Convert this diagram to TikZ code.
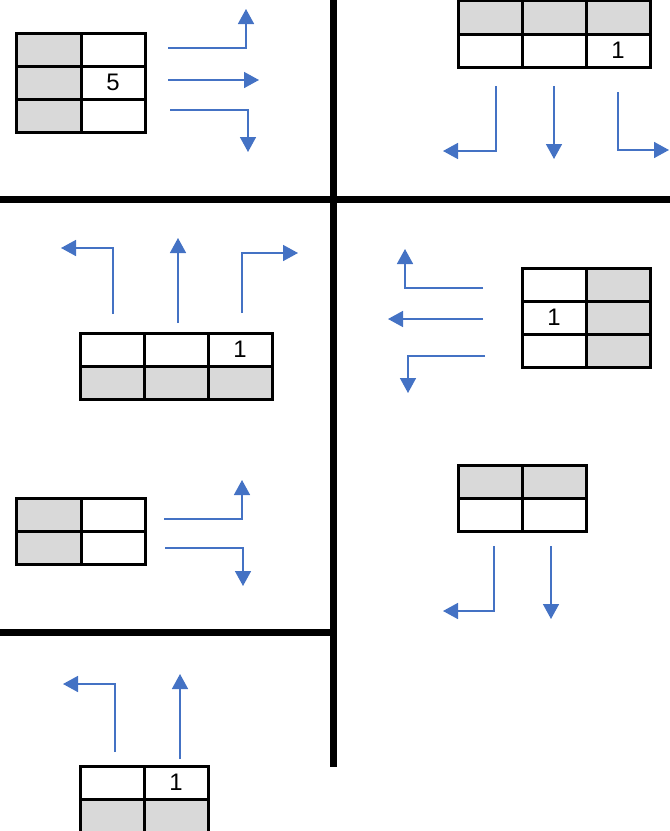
\documentclass[tikz,border=0pt]{standalone}
\usepackage{fontspec}
\setmainfont{Liberation Sans}
\usetikzlibrary{arrows.meta}

\definecolor{cellgray}{HTML}{D9D9D9}
\definecolor{arrowblue}{HTML}{4472C4}

\tikzset{
	cell/.style={draw,line width=3bp,fill=white,minimum width=64bp,minimum height=33bp,
		inner sep=0pt,outer sep=0pt,font=\fontsize{24}{24}\selectfont},
	move/.style={draw=arrowblue,line width=1.6bp,-{Triangle[length=15bp,width=16bp]}},
	wall/.style={line width=7bp}
}

\begin{document}
\begin{tikzpicture}[x=1bp,y=-1bp]
	\useasboundingbox (0,0) rectangle (670,831);

	% walls between the cases
	\draw[wall] (0,199.5) -- (670,199.5);
	\draw[wall] (333,0) -- (333,767);
	\draw[wall] (0,632) -- (333,632);

	% 3x2, grey column on the left
	\foreach \t [count=\n] in {{},5,{}} {
		\node[cell,fill=cellgray] (Al\n) at (49,16.5+33*\n) {};
		\node[cell] (Ar\n) at (113,16.5+33*\n) {\t};
	}
	\draw[move] (168,48) -- (246,48) -- (246,9);
	\draw[move] (168,80) -- (259,80);
	\draw[move] (170,110) -- (248,110) -- (248,152);

	% 2x3, grey row on top
	\foreach \t [count=\n] in {{},{},1} {
		\node[cell,fill=cellgray] (Bt\n) at (426+64*\n,17.5) {};
		\node[cell] (Bb\n) at (426+64*\n,50.5) {\t};
	}
	\draw[move] (496,86) -- (496,151) -- (443,151);
	\draw[move] (554,86) -- (554,159);
	\draw[move] (618,92) -- (618,150) -- (669,150);

	% 2x3, grey row below
	\foreach \t [count=\n] in {{},{},1} {
		\node[cell] (Ct\n) at (48+64*\n,349.5) {\t};
		\node[cell,fill=cellgray] (Cb\n) at (48+64*\n,382.5) {};
	}
	\draw[move] (113,314) -- (113,248) -- (61,248);
	\draw[move] (178,323) -- (178,238);
	\draw[move] (242,313) -- (242,253) -- (298,253);

	% 3x2, grey column on the right
	\foreach \t [count=\n] in {{},1,{}} {
		\node[cell] (Dl\n) at (554,251.5+33*\n) {\t};
		\node[cell,fill=cellgray] (Dr\n) at (618,251.5+33*\n) {};
	}
	\draw[move] (483,288) -- (405,288) -- (405,249);
	\draw[move] (483,319) -- (388,319);
	\draw[move] (485,356) -- (408,356) -- (408,393);

	% 2x2 cases
	\foreach \n in {1,2} {
		\node[cell,fill=cellgray] (El\n) at (49,481.5+33*\n) {};
		\node[cell] (Er\n) at (113,481.5+33*\n) {};
	}
	\draw[move] (164,519) -- (242,519) -- (242,480);
	\draw[move] (165,548) -- (243,548) -- (243,586);

	\foreach \n in {1,2} {
		\node[cell,fill=cellgray] (Ft\n) at (426+64*\n,481.5) {};
		\node[cell] (Fb\n) at (426+64*\n,514.5) {};
	}
	\draw[move] (494,546) -- (494,611) -- (443,611);
	\draw[move] (551,546) -- (551,619);

	\foreach \t [count=\n] in {{},1} {
		\node[cell] (Gt\n) at (48+64*\n,782.5) {\t};
		\node[cell,fill=cellgray] (Gb\n) at (48+64*\n,815.5) {};
	}
	\draw[move] (115,752) -- (115,684) -- (63,684);
	\draw[move] (180,759) -- (180,674);
\end{tikzpicture}
\end{document}
